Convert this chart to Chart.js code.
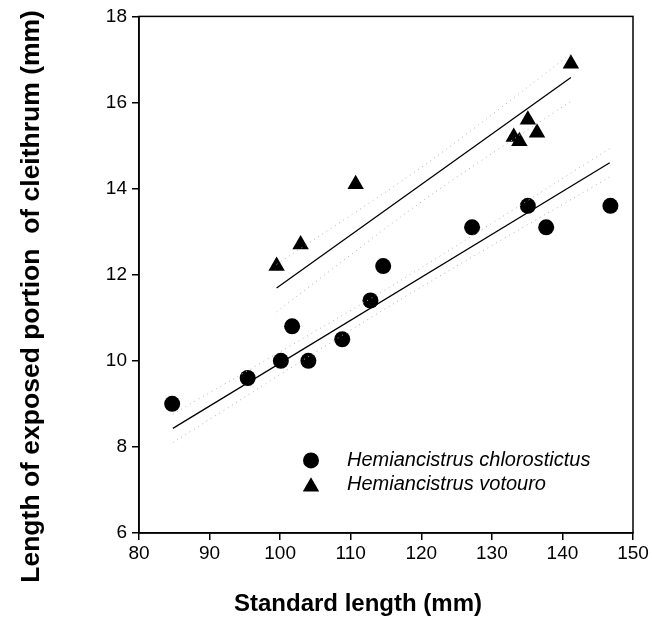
<!DOCTYPE html>
<html><head><meta charset="utf-8">
<script src="https://cdn.jsdelivr.net/npm/chart.js@4.4.1/dist/chart.umd.min.js"></script>
<style>html,body{margin:0;padding:0;background:#fff;}</style>
</head><body>
<canvas id="c" width="652" height="622"></canvas>
<script>
// Data
const chlX = [84.7, 95.4, 100.1, 101.7, 104.0, 108.8, 112.8, 114.6, 127.2, 135.1, 137.7, 146.8];
const chlY = [9.0, 9.6, 10.0, 10.8, 10.0, 10.5, 11.4, 12.2, 13.1, 13.6, 13.1, 13.6];
const votX = [99.5, 102.9, 110.7, 133.1, 133.9, 135.1, 136.4, 141.2];
const votY = [12.2, 12.7, 14.1, 15.2, 15.1, 15.6, 15.3, 16.9];
const chlFitX = [84.8, 146.7];
const chlFitY = [8.43, 14.6];
const votFitX = [99.5, 141.2];
const votFitY = [11.69, 16.58];
const chlBandX = [84.8, 116, 146.7];
const chlBandUp = [8.76, 11.76, 14.93];
const chlBandLo = [8.10, 11.32, 14.27];
const votBandX = [99.5, 120.5, 141.2];
const votBandUp = [12.24, 14.55, 17.13];
const votBandLo = [11.14, 13.75, 16.03];
const xTicks = [80, 90, 100, 110, 120, 130, 140, 150];
const yTicks = [6, 8, 10, 12, 14, 16, 18];
const legendLabels = ['Hemiancistrus chlorostictus', 'Hemiancistrus votouro'];
const xTitle = 'Standard length (mm)';
const yTitle = 'Length of exposed portion  of cleithrum (mm)';

const FONT = 'Arial, "Liberation Sans", sans-serif';
const pts = (xs, ys) => xs.map((x, i) => ({x, y: ys[i]}));

const lineDs = (xs, ys) => ({type:'line', data: pts(xs, ys), borderColor:'#000', borderWidth:1.3, pointRadius:0, fill:false, tension:0});
const bandDs = (xs, ys) => ({type:'line', data: pts(xs, ys), borderColor:'#b0b0b0', borderWidth:1, borderDash:[1,4], pointRadius:0, fill:false, tension:0.3});

const frame = {
  id:'frame',
  afterDraw(chart){
    const {ctx, chartArea:a} = chart;
    ctx.save();
    ctx.strokeStyle = '#000';
    ctx.lineWidth = 1.5;
    ctx.strokeRect(a.left, a.top, a.right - a.left, a.bottom - a.top);
    // legend
    const lx = a.left + 172, ly1 = a.top + 444, ly2 = a.top + 468, tx = a.left + 208;
    ctx.fillStyle = '#000';
    ctx.beginPath(); ctx.arc(lx, ly1, 8, 0, Math.PI*2); ctx.fill();
    const r = 9.5, cy = ly2 + 2.4;
    ctx.beginPath();
    ctx.moveTo(lx, cy - r);
    ctx.lineTo(lx + Math.sin(2*Math.PI/3)*r, cy + r/2);
    ctx.lineTo(lx - Math.sin(2*Math.PI/3)*r, cy + r/2);
    ctx.closePath(); ctx.fill();
    ctx.font = 'italic 20px ' + FONT;
    ctx.textBaseline = 'middle';
    ctx.textAlign = 'left';
    ctx.fillText(legendLabels[0], tx, ly1);
    ctx.fillText(legendLabels[1], tx, ly2);
    // axis titles
    ctx.textAlign = 'center';
    ctx.font = 'bold 24px ' + FONT;
    ctx.fillText(xTitle, a.left + 219, a.bottom + 71);
    ctx.save();
    ctx.translate(32, a.top + 280);
    ctx.rotate(-Math.PI/2);
    ctx.font = 'bold 26.5px ' + FONT;
    ctx.fillText(yTitle, 0, 0);
    ctx.restore();
    ctx.restore();
  }
};

new Chart(document.getElementById('c'), {
  type:'scatter',
  data:{
    datasets:[
      bandDs(chlBandX, chlBandUp), bandDs(chlBandX, chlBandLo),
      bandDs(votBandX, votBandUp), bandDs(votBandX, votBandLo),
      lineDs(chlFitX, chlFitY), lineDs(votFitX, votFitY),
      {label: legendLabels[0], data: pts(chlX, chlY), pointStyle:'circle', pointRadius:8, backgroundColor:'#000', borderWidth:0, pointHoverRadius:8},
      {label: legendLabels[1], data: pts(votX, votY), pointStyle:'triangle', pointRadius:9.5, backgroundColor:'#000', borderWidth:0, pointHoverRadius:9.5}
    ]
  },
  options:{
    responsive:false,
    animation:false,
    devicePixelRatio:1,
    layout:{padding:{top:16, right:19, left:0, bottom:0}},
    plugins:{legend:{display:false}, tooltip:{enabled:false}},
    scales:{
      x:{
        type:'linear', min:80, max:150,
        afterBuildTicks: s => { s.ticks = xTicks.map(v => ({value:v})); },
        afterFit: s => { s.height = 89; },
        grid:{display:true, drawOnChartArea:false, drawTicks:true, tickLength:7, color:'#000', lineWidth:1.5},
        border:{display:true, color:'#000', width:1.5},
        ticks:{color:'#000', font:{family:FONT, size:19}, padding:2, maxRotation:0},
        title:{display:false}
      },
      y:{
        type:'linear', min:6, max:18,
        afterBuildTicks: s => { s.ticks = yTicks.map(v => ({value:v})); },
        afterFit: s => { s.width = 139; },
        grid:{display:true, drawOnChartArea:false, drawTicks:true, tickLength:7, color:'#000', lineWidth:1.5},
        border:{display:true, color:'#000', width:1.5},
        ticks:{color:'#000', font:{family:FONT, size:19}, padding:5},
        title:{display:false}
      }
    }
  },
  plugins:[frame]
});
</script>
</body></html>
